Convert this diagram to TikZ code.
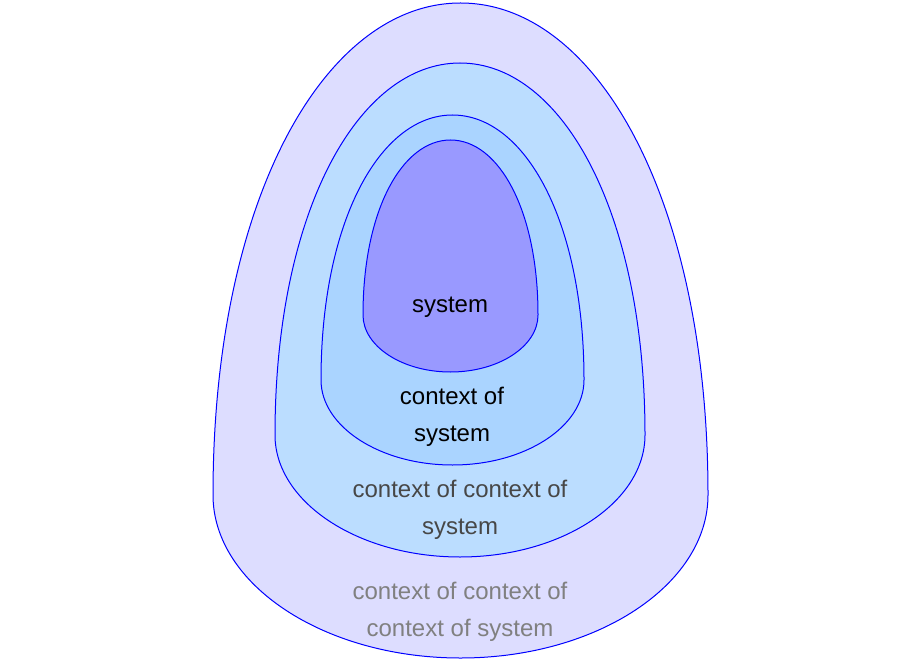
\documentclass[tikz,border=0pt]{standalone}
\usepackage{fontspec}
\setmainfont{Liberation Sans}
\begin{document}
\begin{tikzpicture}[x=1pt,y=-1pt,
  egg/.style={draw=blue,line width=1pt},
  lab/.style={font=\fontsize{24}{37}\selectfont,align=center}]
\useasboundingbox (0,0) rectangle (920,660);
\newcommand\myegg[7]{%
\path[egg,fill=#7] (#3,#5) .. controls (#3,{#5-0.6*(#5-#2)}) and ({#1-0.55*(#1-#3)},#2) .. (#1,#2)
 .. controls ({#1+0.55*(#4-#1)},#2) and (#4,{#5-0.6*(#5-#2)}) .. (#4,#5)
 .. controls (#4,{#5+0.55*(#6-#5)}) and ({#1+0.55*(#4-#1)},#6) .. (#1,#6)
 .. controls ({#1-0.55*(#1-#3)},#6) and (#3,{#5+0.55*(#6-#5)}) .. cycle;}
\definecolor{c1}{HTML}{DDDDFF}
\definecolor{c2}{HTML}{BBDDFF}
\definecolor{c3}{HTML}{AAD4FF}
\definecolor{c4}{HTML}{9999FF}
\myegg{460.5}{3}{213}{708}{495}{658}{c1}
\myegg{460}{63}{275}{645}{435}{557}{c2}
\myegg{452.5}{115}{321}{584}{380}{465}{c3}
\myegg{450.5}{140}{363}{538}{315}{372}{c4}
\node[lab] (s) at (450,307) {system};
\node[lab] (c1t) at (452,417) {context of\\system};
\node[lab,text=black!72] (c2t) at (460,510) {context of context of\\system};
\node[lab,text=black!50] (c3t) at (460,612) {context of context of\\context of system};
\end{tikzpicture}
\end{document}
